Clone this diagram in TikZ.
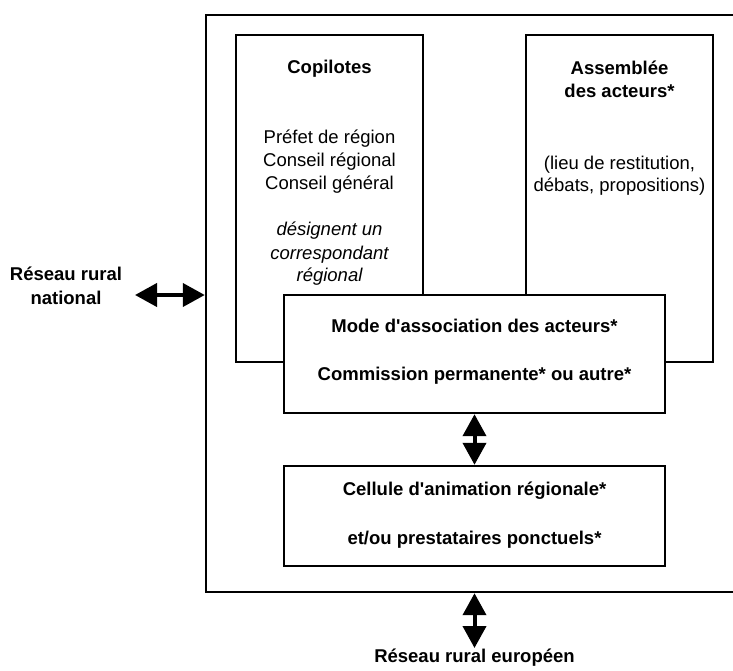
\documentclass[tikz,border=0pt]{standalone}
\usepackage{fontspec}
\setmainfont{Liberation Sans}
\newfontfamily\arialf{Liberation Sans}
\usetikzlibrary{arrows.meta}
\begin{document}
\begin{tikzpicture}[x=1pt,y=-1pt,
  box/.style={draw, line width=2.4pt, inner sep=0pt, fill=white},
  txt/.style={anchor=mid, inner sep=0pt, font=\arialf\fontsize{18.5}{23}\selectfont},
  btxt/.style={txt, font=\arialf\fontsize{18.5}{23}\selectfont\bfseries},
  itxt/.style={txt, font=\arialf\fontsize{18.5}{23}\selectfont\itshape},
  dbl/.style={line width=4pt, {Triangle[length=22pt,width=23pt]}-{Triangle[length=22pt,width=23pt]}}]
\useasboundingbox (0,0) rectangle (733,670);
% outer frame
\node[box, fill=none, minimum width=530pt, minimum height=577pt] (frame) at (471,303.5) {};
% inner boxes
\node[box, minimum width=187pt, minimum height=327pt] (cop) at (329.5,198.5) {};
\node[box, minimum width=187pt, minimum height=327pt] (ass) at (619.5,198.5) {};
\node[box, minimum width=381pt, minimum height=118pt] (mode) at (474.5,354) {};
\node[box, minimum width=381pt, minimum height=100pt] (cell) at (474.5,516) {};
% texts
\node[btxt] (t1) at (329.5,71) {Copilotes};
\node[txt] (t2) at (329.5,141) {Préfet de région};
\node[txt] (t3) at (329.5,164) {Conseil régional};
\node[txt] (t4) at (329.5,187) {Conseil général};
\node[itxt] (t5) at (329.5,233) {désignent un};
\node[itxt] (t6) at (329.5,257) {correspondant};
\node[itxt] (t7) at (329.5,279) {régional};
\node[btxt] (a1) at (619.5,72) {Assemblée};
\node[btxt] (a2) at (619.5,95) {des acteurs*};
\node[txt] (a3) at (619.5,167) {(lieu de restitution,};
\node[txt] (a4) at (619.5,189) {débats, propositions)};
\node[btxt] (m1) at (474.5,330) {Mode d'association des acteurs*};
\node[btxt] (m2) at (474.5,378) {Commission permanente* ou autre*};
\node[btxt] (c1) at (474.5,493) {Cellule d'animation régionale*};
\node[btxt] (c2) at (474.5,542) {et/ou prestataires ponctuels*};
\node[btxt] (n1) at (66,278) {Réseau rural};
\node[btxt] (n2) at (66,302) {national};
\node[btxt] (eu) at (474.5,660) {Réseau rural européen};
% arrows
\coordinate (la) at (135,295);
\draw[dbl] (la) -- (la -| frame.west);
\draw[dbl] (mode.south) -- (cell.north);
\coordinate (ea) at (474.5,648);
\draw[dbl] (ea |- frame.south) -- (ea);
\end{tikzpicture}
\end{document}
